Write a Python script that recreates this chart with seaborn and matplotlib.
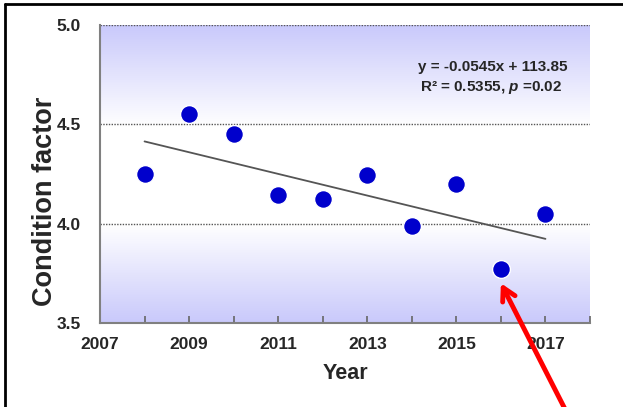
import numpy as np
import pandas as pd
import matplotlib
matplotlib.use("Agg")
import matplotlib.pyplot as plt
from matplotlib.colors import LinearSegmentedColormap
from matplotlib.lines import Line2D
import seaborn as sns

years = [2008, 2009, 2010, 2011, 2012, 2013, 2014, 2015, 2016, 2017]
condition = [4.25, 4.55, 4.45, 4.145, 4.125, 4.245, 3.99, 4.20, 3.77, 4.05]
slope = -0.0545
intercept = 113.85
eq_lines = ["y = -0.0545x + 113.85", "R\u00b2 = 0.5355, $\\mathit{p}$ =0.02"]
x_tick_labels = ["2007", "", "2009", "", "2011", "", "2013", "", "2015", "", "2017", ""]
y_ticks = [3.5, 4.0, 4.5, 5.0]

sns.set_style("white")
plt.rcParams['font.family'] = ['Liberation Sans', 'DejaVu Sans']
plt.rcParams['mathtext.fontset'] = 'custom'
plt.rcParams['mathtext.it'] = 'Liberation Sans:italic:bold'

fig = plt.figure(figsize=(6.23, 4.07), dpi=100)
ax = fig.add_axes([100/623, 84/407, 490/623, 298/407])

# gradient background
lav = "#c9c9fb"
cmap = LinearSegmentedColormap.from_list("bg", [(0.0, lav), (0.33, "#ffffff"), (0.66, "#ffffff"), (1.0, lav)])
grad = np.linspace(0, 1, 256).reshape(-1, 1)
ax.imshow(grad, extent=[2007, 2018, 3.5, 5.0], aspect='auto', cmap=cmap, origin='lower', zorder=0)

# gridlines
for yv in [4.0, 4.5, 5.0]:
    ax.axhline(yv, color="#555555", linestyle=(0, (1, 1)), linewidth=1.0, zorder=1)

df = pd.DataFrame({"Year": years, "Condition": condition})
trend = pd.DataFrame({"Year": [years[0], years[-1]],
                      "Fit": [slope * years[0] + intercept, slope * years[-1] + intercept]})
sns.lineplot(data=trend, x="Year", y="Fit", ax=ax, color="#555555", linewidth=1.3, zorder=2)
sns.scatterplot(data=df, x="Year", y="Condition", ax=ax, s=165, color="#0000cc",
                edgecolor="white", linewidth=1.0, zorder=3)

ax.set_xlim(2007, 2018)
ax.set_ylim(3.5, 5.0)
ax.set_xticks(list(range(2007, 2019)))
ax.set_xticklabels(x_tick_labels)
ax.set_yticks(y_ticks)
ax.set_yticklabels([f"{v:.1f}" for v in y_ticks])
ax.tick_params(axis='x', direction='in', length=5, width=1.2, color="#666666",
               labelsize=12.5, pad=10, bottom=True)
ax.tick_params(axis='y', length=0, labelsize=12.5, pad=14)
for lab in ax.get_xticklabels() + ax.get_yticklabels():
    lab.set_fontweight('bold')

for s in ['top', 'right']:
    ax.spines[s].set_visible(False)
for s in ['left', 'bottom']:
    ax.spines[s].set_color("#808080")
    ax.spines[s].set_linewidth(1.5)

ax.set_xlabel("Year", fontsize=15.5, fontweight='bold', labelpad=8)
ax.set_ylabel("Condition factor", fontsize=19.5, fontweight='bold')
ax.yaxis.set_label_coords(-0.085, 0.41)

ax.text(2017.5, 4.79, eq_lines[0], ha='right', va='center', fontsize=11, fontweight='bold', zorder=4)
ax.text(2017.38, 4.685, eq_lines[1], ha='right', va='center', fontsize=11, fontweight='bold', zorder=4)

# red arrow pointing to 2016 point
ax.annotate("", xy=(2016.0, 3.70), xycoords='data',
            xytext=(566/623, -0.01), textcoords='figure fraction',
            arrowprops=dict(arrowstyle="->,head_length=0.9,head_width=0.5", color="red", lw=3.5,
                            shrinkA=0, shrinkB=0),
            annotation_clip=False, zorder=5)

# outer frame lines
fig.add_artist(Line2D([5/623, 1.0], [1 - 4/407, 1 - 4/407], transform=fig.transFigure, color="black", lw=2))
fig.add_artist(Line2D([5/623, 5/623], [0, 1 - 4/407], transform=fig.transFigure, color="black", lw=2))

fig.savefig("out.png", dpi=100)
